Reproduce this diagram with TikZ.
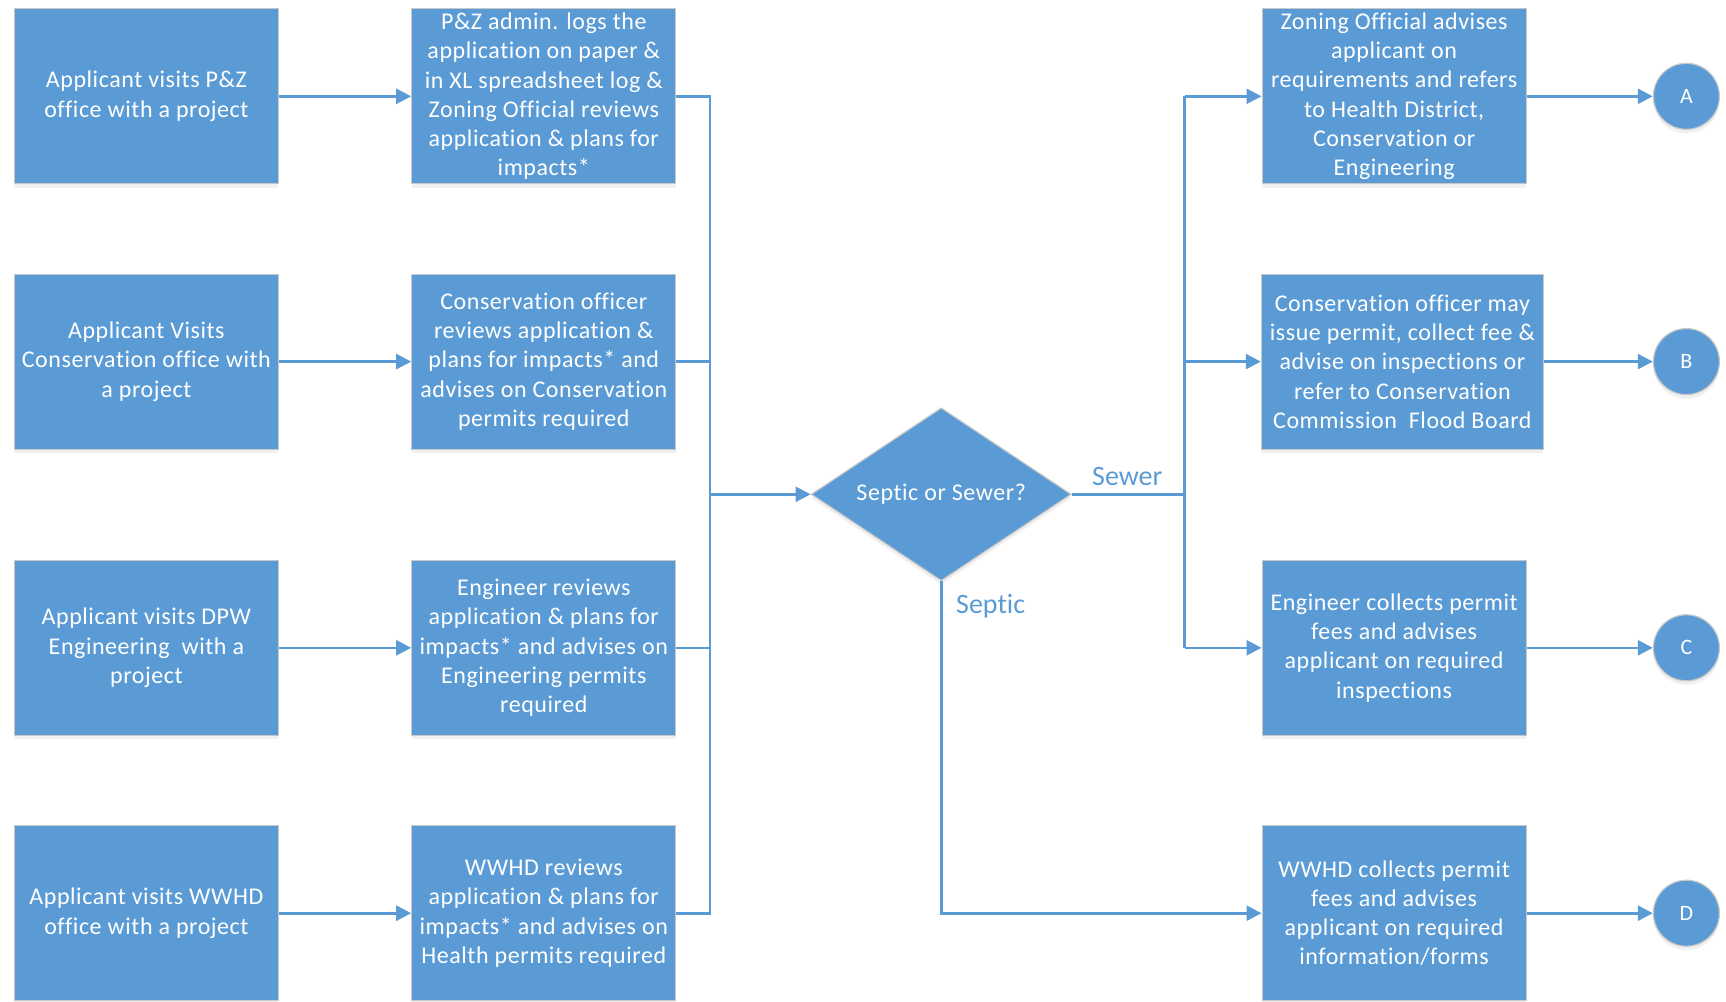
\documentclass[tikz,border=0pt]{standalone}
\usepackage{fontspec}
\setmainfont{Carlito}[LetterSpace=2.3,Ligatures={NoCommon}]
\newfontfamily\labelfont{Carlito}[Ligatures={NoCommon}]
\usetikzlibrary{arrows.meta,shapes.geometric,shadows}
\definecolor{flowblue}{HTML}{5B9BD5}
\definecolor{edgegrey}{HTML}{C8C8C8}
\begin{document}
\begin{tikzpicture}[x=1pt,y=-1pt,
  procbox/.style={draw=edgegrey, line width=1.2pt, fill=flowblue, text=white,
    minimum width=264pt, minimum height=175pt, inner sep=0pt, align=center,
    font=\fontsize{24}{29.3}\selectfont,
    drop shadow={opacity=0.12, shadow xshift=0pt, shadow yshift=-4pt}},
  widebox/.style={procbox, minimum width=282pt},
  decision/.style={diamond, draw=edgegrey, line width=1.2pt, fill=flowblue, text=white,
    minimum width=260pt, minimum height=173pt, aspect=1.5, inner sep=0pt,
    font=\fontsize{24}{29.3}\selectfont,
    drop shadow={opacity=0.12, shadow xshift=0pt, shadow yshift=-4pt}},
  connector/.style={circle, draw=edgegrey, line width=1.2pt, fill=flowblue, text=white,
    minimum size=66pt, inner sep=0pt, font=\fontsize{22}{26}\selectfont,
    drop shadow={opacity=0.12, shadow xshift=0pt, shadow yshift=-4pt}},
  flow/.style={draw=flowblue, line width=2.6pt},
  flowarrow/.style={flow, -{Triangle[length=15pt,width=15pt]}},
  branchlabel/.style={text=flowblue, font=\labelfont\fontsize{28}{32}\selectfont, inner sep=0pt}
]
\useasboundingbox (0,0) rectangle (1726,1001);

% applicant visits
\node[procbox] (a1) at (146.4,96.3) {Applicant visits P\&Z\\office with a project};
\node[procbox] (a2) at (146.4,361.6) {Applicant Visits\\Conservation office with\\a project};
\node[procbox] (a3) at (146.4,647.8) {Applicant visits DPW\\Engineering\ \ with a\\project};
\node[procbox] (a4) at (146.4,913.2) {Applicant visits WWHD\\office with a project};

% office reviews
\node[procbox] (b1) at (543.8,96.3) {P\&Z admin. logs the\\application on paper \&\\in XL spreadsheet log \&\\Zoning Official reviews\\application \& plans for\\impacts*};
\node[procbox] (b2) at (543.8,361.6) {Conservation officer\\reviews application \&\\plans for impacts* and\\advises on Conservation\\permits required};
\node[procbox] (b3) at (543.8,647.8) {Engineer reviews\\application \& plans for\\impacts* and advises on\\Engineering permits\\required};
\node[procbox] (b4) at (543.8,913.2) {WWHD reviews\\application \& plans for\\impacts* and advises on\\Health permits required};

% decision
\node[decision] (d) at (941.2,494.3) {Septic or Sewer?};

% outcomes
\node[procbox] (c1) at (1394.1,96.3) {Zoning Official advises\\applicant on\\requirements and refers\\to Health District,\\Conservation or\\Engineering};
\node[widebox] (c2) at (1402.4,361.6) {Conservation officer may\\issue permit, collect fee \&\\advise on inspections or\\refer to Conservation\\Commission\ \ Flood Board};
\node[procbox] (c3) at (1394.1,647.8) {Engineer collects permit\\fees and advises\\applicant on required\\inspections};
\node[procbox] (c4) at (1394.1,913.2) {WWHD collects permit\\fees and advises\\applicant on required\\information/forms};

% off-page connectors
\node[connector] (ka) at (1686.4,96.3) {A};
\node[connector] (kb) at (1686.4,361.6) {B};
\node[connector] (kc) at (1686.4,647.8) {C};
\node[connector] (kd) at (1686.4,913.2) {D};

% junction points
\coordinate (merge) at (710,494.3);
\coordinate (split) at (1184.5,494.3);

% applicant to office
\draw[flowarrow] (a1) -- (b1);
\draw[flowarrow] (a2) -- (b2);
\draw[flowarrow] (a3) -- (b3);
\draw[flowarrow] (a4) -- (b4);

% offices merge into the decision
\draw[flow] (b1.east) -- (b1.east -| merge) -- (b4.east -| merge) -- (b4.east);
\draw[flow] (b2.east) -- (b2.east -| merge);
\draw[flow] (b3.east) -- (b3.east -| merge);
\draw[flowarrow] (merge) -- (d.west);

% sewer branch
\draw[flow] (d.east) -- (split);
\draw[flow] (c1.west -| split) -- (c3.west -| split);
\draw[flowarrow] (c1.west -| split) -- (c1.west);
\draw[flowarrow] (c2.west -| split) -- (c2.west);
\draw[flowarrow] (c3.west -| split) -- (c3.west);
\node[branchlabel] (sewer) at (1127.2,477) {Sewer};

% septic branch
\draw[flowarrow] (d.south) |- (c4.west);
\node[branchlabel] (septic) at (990.7,606.5) {Septic};

% outcomes to connectors
\draw[flowarrow] (c1) -- (ka);
\draw[flowarrow] (c2) -- (kb);
\draw[flowarrow] (c3) -- (kc);
\draw[flowarrow] (c4) -- (kd);
\end{tikzpicture}
\end{document}
